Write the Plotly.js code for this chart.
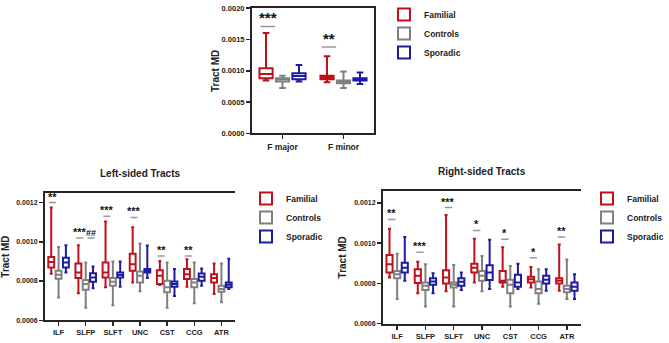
<!DOCTYPE html>
<html>
<head>
<meta charset="utf-8">
<script src="https://cdn.plot.ly/plotly-3.0.1.min.js"></script>
<style>
  html, body { margin: 0; padding: 0; background: #fff; }
  #chartDiv { width: 669px; height: 343px; }
</style>
</head>
<body>
<div id="chartDiv"></div>
<script>
// fascicle MD (top panel)
const fCats = ['F major', 'F minor'];
// each row: [lower whisker, q1, median, q3, upper whisker]
const fFamilial = [[0.000847, 0.000883, 0.000951, 0.001041, 0.001604], [0.000820, 0.000867, 0.000894, 0.000920, 0.001235]];
const fControls = [[0.000725, 0.000831, 0.000867, 0.000883, 0.000920], [0.000725, 0.000804, 0.000825, 0.000847, 0.000989]];
const fSporadic = [[0.000831, 0.000867, 0.000919, 0.000962, 0.001093], [0.000789, 0.000847, 0.000867, 0.000883, 0.000973]];
const fSig = ['***', '**'];
const fSigY = [0.00171, 0.00138];

// tracts (bottom panels)
const tractCats = ['ILF', 'SLFP', 'SLFT', 'UNC', 'CST', 'CCG', 'ATR'];

const leftFamilial = [
  [0.000837, 0.000869, 0.000897, 0.000923, 0.001175],
  [0.000738, 0.000815, 0.000844, 0.000889, 0.000983],
  [0.000768, 0.000818, 0.000844, 0.000894, 0.001104],
  [0.000793, 0.000852, 0.000886, 0.000939, 0.001074],
  [0.000780, 0.000785, 0.000827, 0.000855, 0.000902],
  [0.000771, 0.000811, 0.000835, 0.000861, 0.000911],
  [0.000734, 0.000793, 0.000815, 0.000835, 0.000889]];
const leftControls = [
  [0.000716, 0.000812, 0.000832, 0.000852, 0.000973],
  [0.000664, 0.000755, 0.000785, 0.000805, 0.000894],
  [0.000676, 0.000776, 0.000796, 0.000815, 0.000899],
  [0.000748, 0.000793, 0.000827, 0.000849, 0.000992],
  [0.000664, 0.000743, 0.000768, 0.000802, 0.000894],
  [0.000687, 0.000768, 0.000793, 0.000811, 0.000894],
  [0.000692, 0.000746, 0.000760, 0.000776, 0.000889]];
const leftSporadic = [
  [0.000844, 0.000869, 0.000894, 0.000919, 0.000983],
  [0.000763, 0.000796, 0.000818, 0.000840, 0.000874],
  [0.000771, 0.000818, 0.000831, 0.000844, 0.000899],
  [0.000815, 0.000844, 0.000852, 0.000861, 0.000981],
  [0.000724, 0.000771, 0.000785, 0.000798, 0.000861],
  [0.000776, 0.000802, 0.000822, 0.000838, 0.000864],
  [0.000760, 0.000768, 0.000781, 0.000793, 0.000914]];
const leftSig = ['**', '***', '***', '***', '**', '**', ''];
const leftSigY = [0.00120, 0.00102, 0.00113, 0.001124, 0.000928, 0.000928, null];
const leftHash = ['', '##', '', '', '', '', ''];

const rightFamilial = [
  [0.000829, 0.000854, 0.000895, 0.000941, 0.001071],
  [0.000751, 0.000802, 0.000838, 0.000870, 0.000908],
  [0.000761, 0.000800, 0.000829, 0.000866, 0.001140],
  [0.000805, 0.000854, 0.000878, 0.000898, 0.001022],
  [0.000784, 0.000805, 0.000813, 0.000862, 0.000980],
  [0.000780, 0.000805, 0.000821, 0.000833, 0.000882],
  [0.000764, 0.000800, 0.000813, 0.000826, 0.000993]];
const rightControls = [
  [0.000723, 0.000826, 0.000846, 0.000862, 0.000947],
  [0.000686, 0.000768, 0.000789, 0.000805, 0.000895],
  [0.000686, 0.000780, 0.000794, 0.000805, 0.000892],
  [0.000761, 0.000813, 0.000838, 0.000862, 0.000936],
  [0.000686, 0.000751, 0.000794, 0.000818, 0.000887],
  [0.000699, 0.000751, 0.000772, 0.000810, 0.000870],
  [0.000723, 0.000756, 0.000772, 0.000789, 0.000919]];
const rightSporadic = [
  [0.000813, 0.000854, 0.000878, 0.000903, 0.001030],
  [0.000751, 0.000794, 0.000810, 0.000826, 0.000851],
  [0.000768, 0.000789, 0.000808, 0.000826, 0.000854],
  [0.000772, 0.000817, 0.000854, 0.000890, 0.001017],
  [0.000772, 0.000784, 0.000805, 0.000843, 0.000898],
  [0.000764, 0.000800, 0.000818, 0.000838, 0.000870],
  [0.000723, 0.000764, 0.000784, 0.000805, 0.000846]];
const rightSig = ['**', '***', '***', '*', '*', '*', '**'];
const rightSigY = [0.001118, 0.000955, 0.001177, 0.001063, 0.00102, 0.000927, 0.00103];

const RED = '#c0101c', GRAY = '#808080', BLUE = '#1c1ca0';
const AXC = '#262626';
const FONT = 'Liberation Sans, Arial, sans-serif';

function boxTrace(name, rows, cats, color, xa, ya, leg) {
  return {
    type: 'box', name: name, x: cats,
    lowerfence: rows.map(r => r[0]),
    q1: rows.map(r => r[1]),
    median: rows.map(r => r[2]),
    q3: rows.map(r => r[3]),
    upperfence: rows.map(r => r[4]),
    xaxis: xa, yaxis: ya, legend: leg,
    alignmentgroup: xa, offsetgroup: name,
    boxpoints: false, whiskerwidth: 0.5,
    fillcolor: 'white',
    line: { color: color, width: 2 },
    marker: { color: color }
  };
}

const data = [
  boxTrace('Familial', fFamilial, fCats, RED, 'x', 'y', 'legend'),
  boxTrace('Controls', fControls, fCats, GRAY, 'x', 'y', 'legend'),
  boxTrace('Sporadic', fSporadic, fCats, BLUE, 'x', 'y', 'legend'),
  boxTrace('Familial', leftFamilial, tractCats, RED, 'x2', 'y2', 'legend2'),
  boxTrace('Controls', leftControls, tractCats, GRAY, 'x2', 'y2', 'legend2'),
  boxTrace('Sporadic', leftSporadic, tractCats, BLUE, 'x2', 'y2', 'legend2'),
  boxTrace('Familial', rightFamilial, tractCats, RED, 'x3', 'y3', 'legend3'),
  boxTrace('Controls', rightControls, tractCats, GRAY, 'x3', 'y3', 'legend3'),
  boxTrace('Sporadic', rightSporadic, tractCats, BLUE, 'x3', 'y3', 'legend3')
];

// significance marks: stars + short gray bar
const annotations = [];
const shapes = [];
function addSig(labels, ys, xa, ya, off, half, size) {
  labels.forEach(function (lab, i) {
    if (!lab || ys[i] == null) return;
    shapes.push({ type: 'line', xref: xa, yref: ya, x0: i + off - half, x1: i + off + half,
      y0: ys[i], y1: ys[i], line: { color: '#999', width: 1.5 } });
    annotations.push({ xref: xa, yref: ya, x: i + off, y: ys[i], text: lab, showarrow: false,
      yanchor: 'bottom', yshift: -2, font: { family: FONT, size: size, color: '#111', weight: 'bold' } });
  });
}
addSig(fSig, fSigY, 'x', 'y', -0.24, 0.12, 15);
addSig(leftSig, leftSigY, 'x2', 'y2', -0.22, 0.13, 11);
addSig(leftHash, leftSigY, 'x2', 'y2', 0.2, 0.13, 9);
addSig(rightSig, rightSigY, 'x3', 'y3', -0.19, 0.13, 11);

const panelTitleFont = { family: FONT, size: 10, color: '#222', weight: 'bold' };
annotations.push({ xref: 'paper', yref: 'paper', x: 140 / 669, y: 1 - 172 / 343, xanchor: 'center', yanchor: 'middle',
  text: 'Left-sided Tracts', showarrow: false, font: panelTitleFont });
annotations.push({ xref: 'paper', yref: 'paper', x: 482 / 669, y: 1 - 169 / 343, xanchor: 'center', yanchor: 'middle',
  text: 'Right-sided Tracts', showarrow: false, font: panelTitleFont });

const tickFont = { family: FONT, size: 7, color: '#222', weight: 'bold' };
const catFont = { family: FONT, size: 7.5, color: '#222', weight: 'bold' };
const titleFont = { family: FONT, size: 10, color: '#222', weight: 'bold' };
const legFont = { family: FONT, size: 8.5, color: '#222', weight: 'bold' };

function xAxis(domain, anchor, font) {
  return { domain: domain, anchor: anchor, type: 'category', showline: true, linewidth: 2, linecolor: AXC,
    mirror: true, ticks: 'outside', ticklen: 4, tickwidth: 1.5, tickcolor: AXC, tickfont: font,
    showgrid: false, zeroline: false, fixedrange: true };
}
function yAxis(domain, anchor, range, dtick, mirror, standoff, tfont) {
  return { domain: domain, anchor: anchor, range: range, dtick: dtick, tickformat: '.4f',
    showline: true, linewidth: 2, linecolor: AXC, mirror: mirror, ticks: 'outside', ticklen: 4,
    tickwidth: 1.5, tickcolor: AXC, tickfont: tfont, showgrid: false, zeroline: false,
    title: { text: 'Tract MD', font: titleFont, standoff: standoff } };
}
function rightAxis(over, anchor) {
  return { overlaying: over, anchor: anchor, side: 'right', range: [0, 5], dtick: 1,
    showticklabels: false, showline: true, linewidth: 2, linecolor: AXC, ticks: 'outside',
    ticklen: 4, tickwidth: 1.5, tickcolor: AXC, showgrid: false, zeroline: false };
}
function legendAt(x, y, xanchor) {
  return { x: x, y: y, xanchor: xanchor || 'left', yanchor: 'top', font: legFont, bgcolor: 'rgba(0,0,0,0)',
    itemwidth: 30, tracegroupgap: 0 };
}

const layout = {
  width: 669, height: 343,
  margin: { l: 0, r: 0, t: 0, b: 0 },
  paper_bgcolor: 'white', plot_bgcolor: 'white',
  font: { family: FONT, color: '#222' },
  boxmode: 'group', boxgap: 0.19, boxgroupgap: 0.2,
  xaxis: xAxis([252 / 669, 374 / 669], 'y', { family: FONT, size: 8.5, color: '#222', weight: 'bold' }),
  yaxis: yAxis([1 - 131 / 343, 1 - 4.3 / 343], 'x', [0, 0.002], 0.0005, true, 0,
    { family: FONT, size: 7.5, color: '#222', weight: 'bold' }),
  xaxis2: xAxis([45 / 669, 235 / 669], 'y2', catFont),
  yaxis2: yAxis([1 - 320 / 343, 1 - 191 / 343], 'x2', [0.0006, 0.00125], 0.0002, false, 6, tickFont),
  xaxis3: xAxis([383 / 669, 581 / 669], 'y3', catFont),
  yaxis3: yAxis([1 - 323.5 / 343, 1 - 189 / 343], 'x3', [0.0006, 0.00126], 0.0002, false, 6, tickFont),
  yaxis4: rightAxis('y2', 'x2'),
  yaxis5: rightAxis('y3', 'x3'),
  legend: legendAt(384 / 669, 1 + 4 / 343),
  legend2: legendAt(246 / 669, 1 - 182 / 343),
  legend3: legendAt(1, 1 - 182 / 343, 'right'),
  annotations: annotations,
  shapes: shapes
};

Plotly.newPlot('chartDiv', data, layout, { displayModeBar: false, staticPlot: true });
</script>
</body>
</html>
